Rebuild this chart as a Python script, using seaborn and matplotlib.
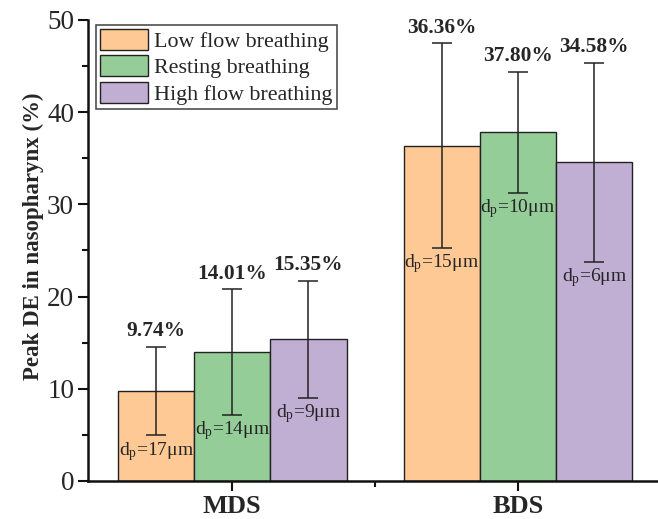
import matplotlib
matplotlib.use("Agg")
import matplotlib.pyplot as plt
from matplotlib.ticker import MultipleLocator, FixedLocator
import seaborn as sns
import pandas as pd

# Peak deposition efficiency in the nasopharynx
groups = ["MDS", "BDS"]
modes = ["Low flow breathing", "Resting breathing", "High flow breathing"]
peak_de = {
    "Low flow breathing": [9.74, 36.36],
    "Resting breathing": [14.01, 37.80],
    "High flow breathing": [15.35, 34.58],
}
peak_err = {
    "Low flow breathing": [4.8, 11.1],
    "Resting breathing": [6.8, 6.6],
    "High flow breathing": [6.35, 10.8],
}
peak_dp = {
    "Low flow breathing": [17, 15],
    "Resting breathing": [14, 10],
    "High flow breathing": [9, 6],
}
colors = ["#FFC995", "#94CD98", "#C1AED3"]

rows = []
for m in modes:
    for g, v, e, d in zip(groups, peak_de[m], peak_err[m], peak_dp[m]):
        rows.append({"group": g, "mode": m, "de": v, "err": e, "dp": d})
df = pd.DataFrame(rows)

sns.set_theme(style="ticks")
plt.rcParams["font.family"] = ["Liberation Serif", "DejaVu Serif"]
plt.rcParams["mathtext.fontset"] = "custom"
plt.rcParams["mathtext.rm"] = "Liberation Serif"
plt.rcParams["mathtext.it"] = "Liberation Serif:italic"
plt.rcParams["mathtext.bf"] = "Liberation Serif:bold"

fig = plt.figure(figsize=(6.58, 5.19), dpi=100)
ax = fig.add_axes([88 / 658, 1 - 481 / 519, 570 / 658, 461 / 519])

sns.barplot(data=df, x="group", y="de", hue="mode", order=groups,
            hue_order=modes, palette=colors, errorbar=None, width=0.8,
            edgecolor="#222222", linewidth=1.0, saturation=1, ax=ax)

# error bars and annotations
bars = [p for p in ax.patches if p.get_height() > 0][:len(df)]
for i, m in enumerate(modes):
    for j, g in enumerate(groups):
        p = bars[i * len(groups) + j]
        xc = p.get_x() + p.get_width() / 2
        v = peak_de[m][j]
        e = peak_err[m][j]
        ax.errorbar(xc, v, yerr=e, fmt="none", ecolor="#222222",
                    elinewidth=1.1, capsize=7, capthick=1.1, zorder=5)
        ax.annotate(f"{v:.2f}%", (xc, v + e), xytext=(0, 4),
                    textcoords="offset points", ha="center", va="bottom",
                    fontsize=15.4, fontweight="bold")
        ax.annotate(r"d$_\mathrm{p}$=" + f"{peak_dp[m][j]}μm", (xc, v - e),
                    xytext=(0, -3), textcoords="offset points",
                    ha="center", va="top", fontsize=14)

ax.set_ylim(0, 50)
ax.set_xlim(-0.505, 1.49)
ax.yaxis.set_major_locator(MultipleLocator(10))
ax.yaxis.set_minor_locator(MultipleLocator(5))
ax.xaxis.set_minor_locator(FixedLocator([0.5]))
ax.tick_params(axis="both", which="major", direction="out", length=7,
               width=1.5, color="#111111", labelsize=19.5, pad=3)
ax.tick_params(axis="both", which="minor", direction="out", length=4,
               width=1.5, color="#111111")
for lab in ax.get_xticklabels():
    lab.set_fontweight("bold")
    lab.set_fontsize(19)

ax.set_xlabel("")
ax.set_ylabel("Peak DE in nasopharynx (%)", fontsize=16.5, fontweight="bold",
              labelpad=4)
ax.yaxis.set_label_coords(-0.078, 0.53)

sns.despine(ax=ax, top=True, right=True)
for s in ["left", "bottom"]:
    ax.spines[s].set_linewidth(1.8)
    ax.spines[s].set_color("#111111")

leg = ax.legend(loc="upper left", bbox_to_anchor=(0.014, 0.99),
                borderaxespad=0, fontsize=15.8, frameon=True, fancybox=False,
                handlelength=2.15, handleheight=1.1, labelspacing=0.15,
                handletextpad=0.3, borderpad=0.2, title=None)
leg.get_frame().set_edgecolor("#222222")
leg.get_frame().set_linewidth(1.2)

fig.savefig("out.png", dpi=100)
